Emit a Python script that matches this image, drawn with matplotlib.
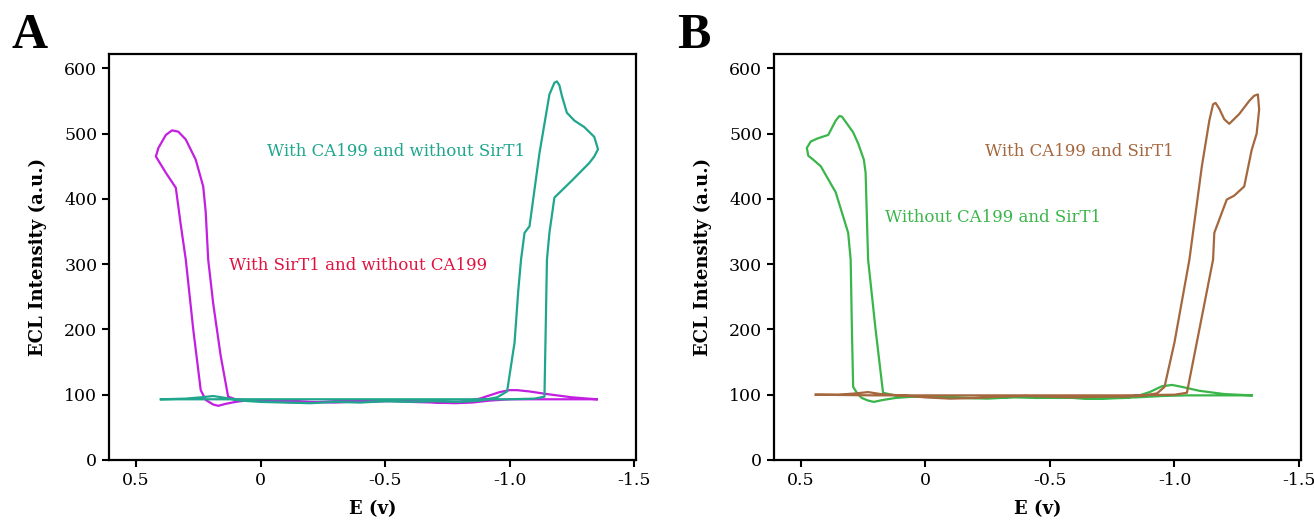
import matplotlib
matplotlib.use("Agg")
import matplotlib.pyplot as plt

plt.rcParams["font.family"] = ["DejaVu Serif"]

# ----------------------------
# Data
# ----------------------------
# Panel A - with SirT1 and without CA199 (magenta)
a_sirt_x = [-1.35, -1.25, -1.15, -1.08, -1.03, -1.0, -0.96, -0.92, -0.88, -0.82, -0.75,
            -0.68, -0.6, -0.5, -0.42, -0.33, -0.25, -0.16, -0.08, 0.0, 0.06, 0.1, 0.13,
            0.16, 0.19, 0.21, 0.22, 0.23, 0.26, 0.3, 0.33, 0.355, 0.38, 0.41, 0.42,
            0.38, 0.34, 0.32, 0.3, 0.27, 0.24, 0.22, 0.19, 0.17, 0.14, 0.1, 0.04,
            -0.04, -0.12, -0.2, -0.3, -0.4, -0.5, -0.6, -0.7, -0.78, -0.85, -0.92,
            -1.0, -1.1, -1.2, -1.35]
a_sirt_y = [93, 96, 101, 105, 107, 107, 104, 99, 94, 90, 88,
            89, 91, 90, 89, 91, 89, 88, 89, 91, 92, 93, 97,
            160, 240, 307, 380, 419, 460, 491, 503, 505, 498, 478, 465,
            440, 417, 360, 307, 200, 107, 92, 85, 83, 86, 89, 92,
            92, 91, 89, 88, 90, 91, 89, 88, 87, 88, 91,
            93, 93, 93, 93]

# Panel A - with CA199 and without SirT1 (teal)
a_ca_x = [0.4, 0.3, 0.24, 0.19, 0.14, 0.08, 0.0, -0.1, -0.2, -0.3, -0.4, -0.5,
          -0.6, -0.7, -0.8, -0.88, -0.95, -0.99, -1.02, -1.035, -1.046, -1.06, -1.08,
          -1.12, -1.16, -1.18, -1.19, -1.2, -1.21, -1.23, -1.26, -1.3, -1.34, -1.355,
          -1.34, -1.32, -1.25, -1.18, -1.16, -1.15, -1.145, -1.14, -1.1, -1.0,
          -0.8, -0.6, -0.4, -0.2, 0.0, 0.2, 0.4]
a_ca_y = [93, 94, 96, 98, 95, 91, 89, 88, 87, 89, 88, 90,
          89, 90, 89, 91, 96, 105, 180, 260, 307, 348, 358,
          470, 560, 578, 580, 574, 558, 532, 520, 510, 495, 476,
          465, 455, 428, 402, 348, 307, 200, 97, 94, 93,
          93, 93, 93, 93, 93, 93, 93]

# Panel B - without CA199 and SirT1 (green)
b_none_x = [-1.31, -1.2, -1.1, -1.03, -0.99, -0.95, -0.9, -0.85, -0.8, -0.7, -0.6,
            -0.5, -0.4, -0.3, -0.2, -0.1, 0.0, 0.1, 0.17, 0.2, 0.23, 0.24, 0.247,
            0.27, 0.29, 0.32, 0.335, 0.345, 0.36, 0.39, 0.43, 0.46, 0.476, 0.47, 0.45, 0.42,
            0.36, 0.31, 0.3, 0.295, 0.29, 0.27, 0.255, 0.23, 0.207, 0.17, 0.12,
            0.05, -0.05, -0.15, -0.25, -0.35, -0.45, -0.55, -0.65, -0.75, -0.85,
            -0.95, -1.05, -1.15, -1.31]
b_none_y = [99, 101, 106, 112, 115, 113, 104, 98, 95, 94, 95,
            96, 97, 96, 95, 96, 97, 97, 103, 200, 307, 440, 460,
            485, 502, 518, 526, 527, 520, 498, 493, 488, 478, 466, 460, 450,
            410, 348, 307, 200, 112, 100, 95, 91, 89, 92, 95,
            97, 96, 95, 94, 96, 95, 96, 94, 95, 96,
            98, 99, 99, 99]

# Panel B - with CA199 and SirT1 (brown)
b_both_x = [0.44, 0.35, 0.28, 0.23, 0.18, 0.1, 0.0, -0.1, -0.2, -0.3, -0.4, -0.5,
            -0.6, -0.7, -0.8, -0.88, -0.93, -0.96, -1.0, -1.06, -1.11, -1.14, -1.155, -1.165,
            -1.18, -1.2, -1.22, -1.26, -1.3, -1.32, -1.335, -1.34, -1.33, -1.31, -1.28,
            -1.24, -1.21, -1.16, -1.155, -1.1, -1.05, -1.0, -0.8, -0.6, -0.4,
            -0.2, 0.0, 0.2, 0.44]
b_both_y = [100, 100, 102, 104, 101, 99, 96, 94, 95, 97, 98, 97,
            96, 97, 97, 99, 102, 112, 180, 307, 450, 520, 545, 547,
            538, 522, 515, 530, 550, 558, 560, 537, 500, 475, 419,
            405, 399, 348, 307, 200, 103, 100, 99, 99, 99,
            99, 99, 99, 100]

x_ticks = [0.5, 0, -0.5, -1.0, -1.5]
x_tick_labels = ["0.5", "0", "-0.5", "-1.0", "-1.5"]
y_ticks = [0, 100, 200, 300, 400, 500, 600]

panels = [
    ("A", [(a_sirt_x, a_sirt_y, "#c21fe0"), (a_ca_x, a_ca_y, "#1fa68d")],
     [(-0.545, 473, "With CA199 and without SirT1", "#1fa68d"),
      (-0.392, 298, "With SirT1 and without CA199", "#e0123f")]),
    ("B", [(b_none_x, b_none_y, "#3ab54a"), (b_both_x, b_both_y, "#a4673e")],
     [(-0.62, 473, "With CA199 and SirT1", "#a4673e"),
      (-0.273, 372, "Without CA199 and SirT1", "#3ab54a")]),
]

fig = plt.figure(figsize=(13.14, 5.2), dpi=100)
lefts = [0.083, 0.589]

for left, (letter, curves, notes) in zip(lefts, panels):
    ax = fig.add_axes([left, 0.1154, 0.4011, 0.7808])
    for cx, cy, col in curves:
        ax.plot(cx, cy, color=col, linewidth=1.6, solid_joinstyle="round")
    for tx, ty, txt, col in notes:
        ax.text(tx, ty, txt, color=col, fontsize=12, ha="center", va="center")

    ax.set_xlim(0.608, -1.508)
    ax.set_ylim(0, 622)
    ax.set_xticks(x_ticks)
    ax.set_xticklabels(x_tick_labels)
    ax.set_yticks(y_ticks)
    ax.tick_params(direction="out", length=5, width=1.5, labelsize=12.5)
    for sp in ax.spines.values():
        sp.set_linewidth(1.6)
    ax.set_xlabel("E (v)", fontsize=13, fontweight="bold", labelpad=8)
    ax.set_ylabel("ECL Intensity (a.u.)", fontsize=13, fontweight="bold", labelpad=12)

    fig.text(left - 0.074, 0.975, letter, fontsize=36, fontweight="bold",
             family=["Liberation Serif"], ha="left", va="top")

fig.savefig("out.png", dpi=100)
